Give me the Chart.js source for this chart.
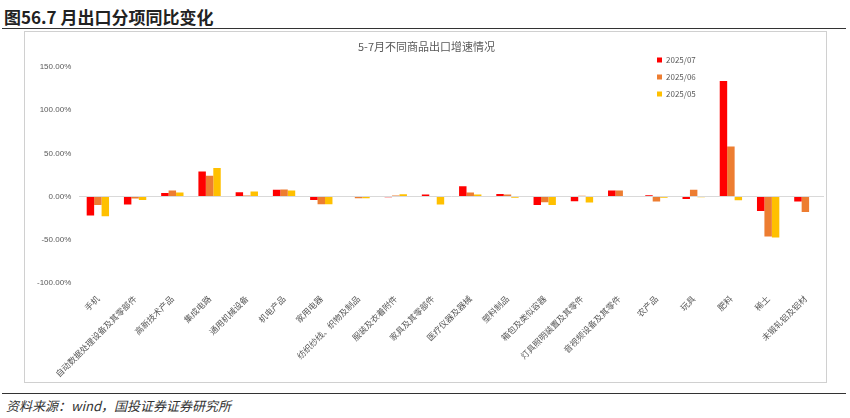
<!DOCTYPE html>
<html><head><meta charset="utf-8">
<script src="https://cdn.jsdelivr.net/npm/chart.js@4"></script>
<style>
body{margin:0;width:850px;height:418px;background:#fff;position:relative;font-family:"Noto Sans CJK SC",sans-serif;overflow:hidden}
#hd{position:absolute;left:4px;top:4px;font-size:17px;font-weight:bold;color:#222}
#hl{position:absolute;left:2px;right:4px;top:28px;border-top:1.5px solid #333}
#box{position:absolute;left:24px;top:31px;width:801px;height:350px;border:1px solid #d0d0d0}
#fl{position:absolute;left:2px;right:4px;top:393px;border-top:1.5px solid #333}
#ft{position:absolute;left:6px;top:396px;font-size:13px;font-style:italic;color:#333}
</style></head><body>
<div id="hd">图56.7 月出口分项同比变化</div>
<div id="hl"></div>
<div id="box"><canvas id="c" width="801" height="350"></canvas></div>
<div id="fl"></div>
<div id="ft">资料来源：wind，国投证券证券研究所</div>
<script>
const categories = ['手机','自动数据处理设备及其零部件','高新技术产品','集成电路','通用机械设备','机电产品','家用电器','纺织纱线、织物及制品','服装及衣着附件','家具及其零部件','医疗仪器及器械','塑料制品','箱包及类似容器','灯具照明装置及其零件','音视频设备及其零件','农产品','玩具','肥料','稀土','未锻轧铝及铝材'];
const jul = [-22,-9.4,4,29,5,7.8,-4,-0.5,-1,2.3,12,3,-9.8,-5.5,7,1.5,-3,134,-17,-5.9];
const jun = [-10,-2.3,7,24,1,8.2,-9,-2,1,0.5,4.7,2.3,-6.6,0.8,7,-5.9,7.8,58,-46.5,-18];
const may = [-23,-4,4.7,33,5.9,7,-9,-2,2.5,-9.4,2.3,-1.6,-9.8,-7,0,-1.6,-1,-4.3,-47.7,null];
const yTicks = [-100,-50,0,50,100,150];
const seriesNames = ['2025/07','2025/06','2025/05'];
const colors = ['#ff0000','#ed7d31','#ffc000'];

const legendPlugin = {
  id:'lg',
  afterDraw(ch){
    const c = ch.ctx;
    c.save();
    c.font = '8px "Noto Sans CJK SC"';
    c.textBaseline = 'middle';
    seriesNames.forEach((n,i)=>{
      const y = 28 + i*17;
      c.fillStyle = colors[i];
      c.fillRect(632, y-2.5, 5, 5);
      c.fillStyle = '#595959';
      c.fillText(n, 641, y);
    });
    c.restore();
  }
};

new Chart(document.getElementById('c'), {
  type:'bar',
  data:{
    labels:categories,
    datasets:[
      {label:seriesNames[0], data:jul, backgroundColor:colors[0]},
      {label:seriesNames[1], data:jun, backgroundColor:colors[1]},
      {label:seriesNames[2], data:may, backgroundColor:colors[2]}
    ]
  },
  options:{
    responsive:false,
    animation:false,
    layout:{padding:{left:4,right:2,top:5,bottom:0}},
    datasets:{bar:{categoryPercentage:0.6,barPercentage:1}},
    plugins:{
      legend:{display:false},
      title:{display:true,text:'5-7月不同商品出口增速情况',color:'#595959',font:{size:11,family:'"Noto Sans CJK SC"',weight:'normal'},padding:{top:3,bottom:14}},
      tooltip:{enabled:false}
    },
    scales:{
      x:{
        grid:{display:false},
        border:{display:false},
        ticks:{color:'#595959',font:{size:8.5,family:'"Noto Sans CJK SC"'},maxRotation:45,minRotation:45,autoSkip:false}
      },
      y:{
        min:-100,max:150,
        afterBuildTicks(ax){ax.ticks = yTicks.map(v=>({value:v}));},
        grid:{color:ctx=>ctx.tick.value===0?'#d9d9d9':'transparent',drawTicks:false},
        border:{display:false},
        ticks:{color:'#595959',font:{size:8},padding:8,callback:v=>v.toFixed(2)+'%'}
      }
    }
  },
  plugins:[legendPlugin]
});
</script>
</body></html>
